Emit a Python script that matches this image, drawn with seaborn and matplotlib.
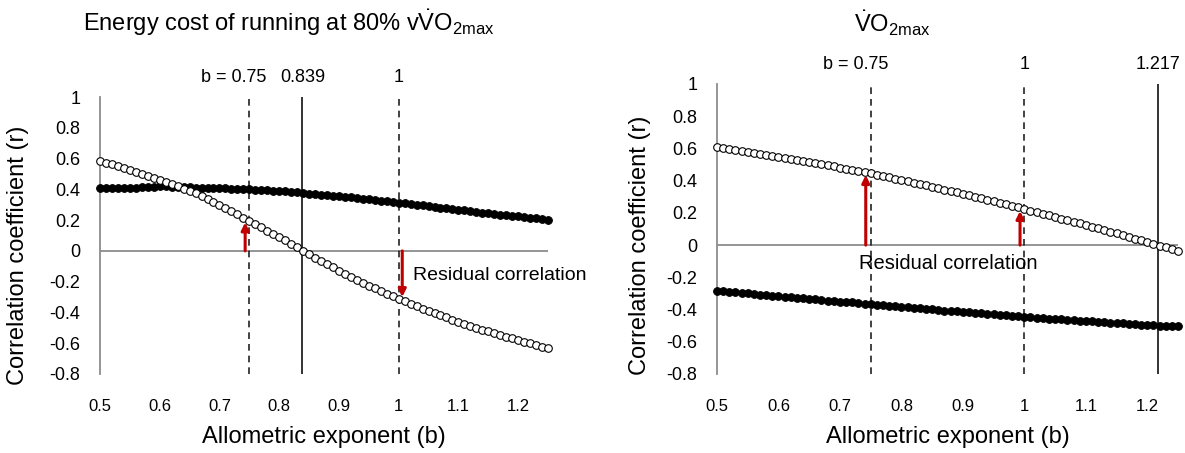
import numpy as np
import pandas as pd
import matplotlib
matplotlib.use("Agg")
import matplotlib.pyplot as plt
import seaborn as sns

# ---------------- data ----------------
exponent = [0.50, 0.51, 0.52, 0.53, 0.54, 0.55, 0.56, 0.57, 0.58, 0.59,
            0.60, 0.61, 0.62, 0.63, 0.64, 0.65, 0.66, 0.67, 0.68, 0.69,
            0.70, 0.71, 0.72, 0.73, 0.74, 0.75, 0.76, 0.77, 0.78, 0.79,
            0.80, 0.81, 0.82, 0.83, 0.84, 0.85, 0.86, 0.87, 0.88, 0.89,
            0.90, 0.91, 0.92, 0.93, 0.94, 0.95, 0.96, 0.97, 0.98, 0.99,
            1.00, 1.01, 1.02, 1.03, 1.04, 1.05, 1.06, 1.07, 1.08, 1.09,
            1.10, 1.11, 1.12, 1.13, 1.14, 1.15, 1.16, 1.17, 1.18, 1.19,
            1.20, 1.21, 1.22, 1.23, 1.24, 1.25]

# Energy cost panel
ec_filled = [0.410, 0.410, 0.410, 0.410, 0.410, 0.410, 0.411, 0.412, 0.416, 0.418,
             0.419, 0.419, 0.418, 0.415, 0.413, 0.412, 0.411, 0.410, 0.410, 0.409,
             0.408, 0.406, 0.405, 0.404, 0.402, 0.400, 0.398, 0.396, 0.394, 0.392,
             0.390, 0.387, 0.384, 0.380, 0.376, 0.372, 0.369, 0.366, 0.362, 0.358,
             0.355, 0.351, 0.347, 0.343, 0.339, 0.334, 0.330, 0.326, 0.322, 0.317,
             0.312, 0.308, 0.304, 0.299, 0.295, 0.290, 0.286, 0.281, 0.277, 0.272,
             0.267, 0.263, 0.258, 0.254, 0.249, 0.244, 0.240, 0.236, 0.232, 0.228,
             0.224, 0.219, 0.215, 0.211, 0.207, 0.203]
ec_open = [0.585, 0.574, 0.562, 0.551, 0.539, 0.527, 0.515, 0.502, 0.489, 0.476,
           0.463, 0.449, 0.435, 0.420, 0.405, 0.390, 0.373, 0.355, 0.337, 0.319,
           0.300, 0.279, 0.258, 0.237, 0.216, 0.195, 0.174, 0.153, 0.132, 0.111,
           0.090, 0.068, 0.045, 0.023, 0.000, -0.022, -0.043, -0.065, -0.086, -0.107,
           -0.128, -0.148, -0.167, -0.187, -0.206, -0.225, -0.243, -0.261, -0.278, -0.295,
           -0.312, -0.328, -0.344, -0.359, -0.375, -0.390, -0.404, -0.418, -0.432, -0.446,
           -0.460, -0.473, -0.486, -0.498, -0.511, -0.523, -0.535, -0.546, -0.558, -0.569,
           -0.580, -0.591, -0.601, -0.612, -0.622, -0.632]

# VO2max panel
vo_open = [0.610, 0.604, 0.598, 0.592, 0.586, 0.580, 0.574, 0.567, 0.561, 0.554,
           0.548, 0.541, 0.535, 0.528, 0.522, 0.515, 0.508, 0.501, 0.495, 0.488,
           0.481, 0.474, 0.467, 0.459, 0.452, 0.445, 0.437, 0.429, 0.421, 0.413,
           0.405, 0.397, 0.388, 0.380, 0.371, 0.363, 0.354, 0.345, 0.336, 0.327,
           0.318, 0.309, 0.300, 0.290, 0.281, 0.272, 0.262, 0.253, 0.243, 0.234,
           0.224, 0.214, 0.204, 0.195, 0.185, 0.175, 0.165, 0.155, 0.145, 0.135,
           0.125, 0.115, 0.104, 0.094, 0.083, 0.073, 0.062, 0.051, 0.041, 0.030,
           0.019, 0.008, -0.003, -0.014, -0.025, -0.036]
vo_filled = [-0.282, -0.286, -0.290, -0.293, -0.297, -0.300, -0.304, -0.307, -0.311, -0.314,
             -0.318, -0.321, -0.324, -0.328, -0.331, -0.334, -0.337, -0.340, -0.344, -0.347,
             -0.350, -0.353, -0.356, -0.360, -0.363, -0.366, -0.370, -0.373, -0.376, -0.380,
             -0.383, -0.386, -0.389, -0.393, -0.396, -0.399, -0.402, -0.406, -0.409, -0.412,
             -0.415, -0.418, -0.421, -0.424, -0.427, -0.430, -0.433, -0.436, -0.439, -0.442,
             -0.445, -0.448, -0.450, -0.453, -0.456, -0.459, -0.461, -0.464, -0.467, -0.469,
             -0.472, -0.474, -0.477, -0.479, -0.481, -0.484, -0.486, -0.488, -0.491, -0.493,
             -0.495, -0.497, -0.499, -0.501, -0.503, -0.505]

x_ticks = [0.5, 0.6, 0.7, 0.8, 0.9, 1.0, 1.1, 1.2]
x_tick_labels = ["0.5", "0.6", "0.7", "0.8", "0.9", "1", "1.1", "1.2"]
y_ticks = [-0.8, -0.6, -0.4, -0.2, 0.0, 0.2, 0.4, 0.6, 0.8, 1.0]
y_tick_labels = ["-0.8", "-0.6", "-0.4", "-0.2", "0", "0.2", "0.4", "0.6", "0.8", "1"]

ec_dashed = [0.75, 1.0]
ec_solid = 0.839
ec_header = ["b = 0.75", "0.839", "1"]
vo_dashed = [0.75, 1.0]
vo_solid = 1.217
vo_header = ["b = 0.75", "1", "1.217"]

# residual arrows: (x, tip value)
ec_arrows = [(0.743, 0.185), (1.006, -0.300)]
vo_arrows = [(0.742, 0.435), (0.993, 0.212)]

title_ec = r"Energy cost of running at 80% v$\dot{\mathrm{V}}\mathrm{O}_{\mathrm{2max}}$"
title_vo = r"$\dot{\mathrm{V}}\mathrm{O}_{\mathrm{2max}}$"

# ---------------- style ----------------
sns.set_theme(style="white")
plt.rcParams["font.family"] = ["Liberation Sans", "DejaVu Sans"]
plt.rcParams["mathtext.fontset"] = "custom"
plt.rcParams["mathtext.rm"] = "Liberation Sans"
plt.rcParams["mathtext.it"] = "Liberation Sans:italic"
plt.rcParams["mathtext.bf"] = "Liberation Sans:bold"
for key in ["text.color", "axes.labelcolor", "xtick.color", "ytick.color"]:
    plt.rcParams[key] = "black"

W, H = 1185, 453
fig = plt.figure(figsize=(W / 100, H / 100), dpi=100)
axL = fig.add_axes([100 / W, 1 - 374 / H, 448 / W, 277 / H])
axR = fig.add_axes([717 / W, 1 - 374 / H, 461 / W, 290 / H])

GRAY = "#8c8c8c"
RED = "#c00000"
XTICK_FS = 12
YTICK_FS = 13
LABEL_FS = 17


def style_axes(ax, label_x, label_y_ax, xlabel_y):
    ax.set_xlim(0.5, 1.25)
    ax.set_ylim(-0.8, 1.0)
    ax.set_xticks(x_ticks)
    ax.set_xticklabels(x_tick_labels, fontsize=XTICK_FS)
    ax.set_yticks(y_ticks)
    ax.set_yticklabels(y_tick_labels, fontsize=YTICK_FS)
    for s in ["top", "right", "bottom"]:
        ax.spines[s].set_visible(False)
    ax.spines["left"].set_color(GRAY)
    ax.spines["left"].set_linewidth(1.3)
    ax.tick_params(axis="both", length=0, colors="black")
    ax.tick_params(axis="y", pad=14)
    ax.tick_params(axis="x", pad=18)
    ax.axhline(0, color=GRAY, lw=1.3, zorder=1)
    ax.set_xlabel("Allometric exponent (b)", fontsize=LABEL_FS, color="black")
    ax.set_ylabel("Correlation coefficient (r)", fontsize=LABEL_FS, color="black")
    ax.xaxis.set_label_coords(0.5, xlabel_y)
    ax.xaxis.label.set_va("center")
    ax.yaxis.set_label_coords(label_x, label_y_ax)
    ax.yaxis.label.set_va("center")
    ax.grid(False)
    ax.set_facecolor("none")


def draw_panel(ax, filled, opened, dashed, solid, header, arrows):
    for xv in dashed:
        ax.axvline(xv, color="#222222", lw=1.2, ls=(0, (4, 3)), zorder=2)
    ax.axvline(solid, color="#111111", lw=1.2, zorder=2)
    df = pd.DataFrame({"b": exponent, "filled": filled, "open": opened})
    sns.scatterplot(data=df, x="b", y="filled", ax=ax, marker="o", s=32,
                    color="black", edgecolor="black", linewidth=0.6,
                    zorder=4, clip_on=False, legend=False)
    sns.scatterplot(data=df, x="b", y="open", ax=ax, marker="o", s=30,
                    color="white", edgecolor="black", linewidth=0.8,
                    zorder=5, clip_on=False, legend=False)
    for xa, tip in arrows:
        ax.annotate("", xy=(xa, tip), xytext=(xa, 0.0),
                    arrowprops=dict(arrowstyle="-|>", color=RED, lw=2.2,
                                    mutation_scale=11, shrinkA=0, shrinkB=0),
                    zorder=6)
    hx = sorted([dashed[0], dashed[1], solid])
    for xv, lab in zip(hx, header):
        if lab.startswith("b ="):
            ax.annotate(lab, xy=(xv, 1.0), xycoords="data",
                        xytext=(12.6, 14), textcoords="offset points",
                        ha="right", va="center", fontsize=13,
                        annotation_clip=False)
        else:
            ax.annotate(lab, xy=(xv, 1.0), xycoords="data",
                        xytext=(0, 14), textcoords="offset points",
                        ha="center", va="center", fontsize=13,
                        annotation_clip=False)


draw_panel(axL, ec_filled, ec_open, ec_dashed, ec_solid, ec_header, ec_arrows)
draw_panel(axR, vo_filled, vo_open, vo_dashed, vo_solid, vo_header, vo_arrows)
style_axes(axL, -0.183, 0.43, -0.227)
style_axes(axR, -0.167, 0.445, -0.217)

axL.text(1.024, -0.16, "Residual correlation", fontsize=14, ha="left", va="center")
axR.text(0.876, -0.115, "Residual correlation", fontsize=14.5, ha="center", va="center")

fig.text(289 / W, 1 - 23 / H, title_ec, ha="center", va="center", fontsize=LABEL_FS)
fig.text(892 / W, 1 - 23 / H, title_vo, ha="center", va="center", fontsize=LABEL_FS)

fig.savefig("out.png", dpi=100, facecolor="white")
